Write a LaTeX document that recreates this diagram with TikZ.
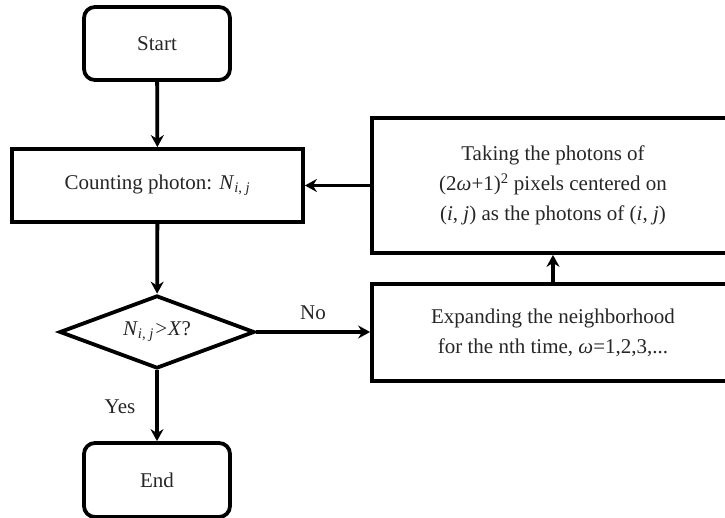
\documentclass[tikz,border=0pt]{standalone}
\usepackage{fontspec}
\setmainfont{Liberation Serif}
\usetikzlibrary{arrows.meta,shapes.geometric}
\begin{document}
\begin{tikzpicture}[x=1pt,y=-1pt,
  txt/.style={font=\fontsize{21}{30}\selectfont, text=black!85},
  box/.style={draw, line width=3.8pt, inner sep=0pt, align=center, txt},
  rbox/.style={box, rounded corners=11pt},
  decision/.style={box, diamond, aspect=2.67},
  arr/.style={line width=3.8pt, -{Stealth[length=12pt,width=13pt,inset=4pt]}}]
\useasboundingbox (0,0) rectangle (725,518);
\clip (0,0) rectangle (725,518);
\node[rbox, minimum width=146pt, minimum height=73pt] (start) at (157,43.5) {Start};
\node[box, minimum width=291pt, minimum height=73pt] (count) at (157.5,185.5)
  {Counting photon: \textit{N}\textsubscript{\textit{i}, \textit{j}}};
\node[decision, minimum width=195pt, minimum height=73pt] (dec) at (157,332)
  {\textit{N}\textsubscript{\textit{i}, \textit{j}}\textit{>X}?};
\node[rbox, minimum width=146pt, minimum height=74pt] (end) at (157,480) {End};
\node[box, minimum width=362pt, minimum height=135pt] (take) at (553,185.5)
  {Taking the photons of\\(2\textit{ω}+1)\textsuperscript{2} pixels centered on\\(\textit{i}, \textit{j}) as the photons of (\textit{i}, \textit{j})};
\node[box, minimum width=362pt, minimum height=97pt] (expand) at (553,332.5)
  {Expanding the neighborhood\\for the nth time, \textit{ω}=1,2,3,...};
\node[txt] (no) at (313,313) {No};
\node[txt] (yes) at (120,407) {Yes};
\draw[arr] (start) -- (count);
\draw[arr] (count) -- (dec);
\draw[arr] (dec) -- (end);
\draw[arr] (dec.east) -- (dec.east -| expand.west);
\draw[arr] (expand) -- (take);
\draw[arr] (take.west) -- (take.west -| count.east);
\end{tikzpicture}
\end{document}
